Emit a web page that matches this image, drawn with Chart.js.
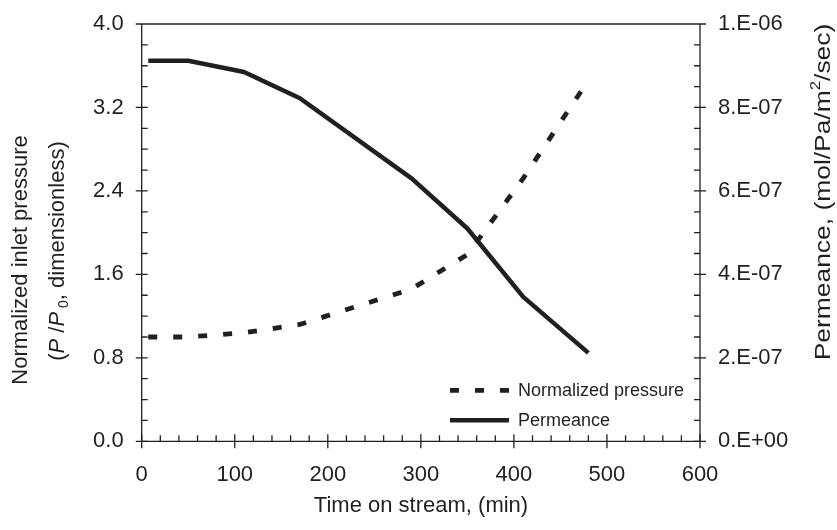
<!DOCTYPE html>
<html lang="en">
<head>
  <meta charset="UTF-8" />
  <title>Pressure and permeance vs time on stream</title>
  <script src="https://cdn.jsdelivr.net/npm/chart.js"></script>
  <style>
    html, body {
      margin: 0;
      padding: 0;
      background: #fff;
    }
    #chart-container {
      width: 837px;
      height: 530px;
    }
  </style>
</head>
<body>

  <div id="chart-container">
    <canvas id="permChart"></canvas>
  </div>

  <script>
    // data
    const timeMin = [7, 50, 110, 170, 290, 350, 410, 480];
    const pressure = [1.0, 1.0, 1.04, 1.12, 1.46, 1.79, 2.52, 3.46];
    const permeance = [9.12e-7, 9.12e-7, 8.85e-7, 8.22e-7, 6.3e-7, 5.1e-7, 3.46e-7, 2.12e-7];

    const timeTicks = [0, 100, 200, 300, 400, 500, 600];
    const pressureTicks = [0, 0.8, 1.6, 2.4, 3.2, 4.0];
    const pressureTickLabels = ['0.0', '0.8', '1.6', '2.4', '3.2', '4.0'];
    const permTicks = [0, 2e-7, 4e-7, 6e-7, 8e-7, 1e-6];
    const permTickLabels = ['0.E+00', '2.E-07', '4.E-07', '6.E-07', '8.E-07', '1.E-06'];

    const INK = '#231f20';
    const FAMILY = '"Liberation Sans", Arial, sans-serif';

    function toPoints(xs, ys) {
      return xs.map((x, i) => ({ x: x, y: ys[i] }));
    }

    // draw a run of text pieces (italic / subscript / superscript), centred on 0,0
    function drawRich(ctx, parts, size) {
      const fontFor = p => (p.italic ? 'italic ' : '') + (p.sub || p.sup ? Math.round(size * 0.65) : size) + 'px ' + FAMILY;
      let total = 0;
      parts.forEach(p => { ctx.font = fontFor(p); p.w = ctx.measureText(p.text).width; total += p.w; });
      let x = -total / 2;
      ctx.textBaseline = 'middle';
      ctx.textAlign = 'left';
      parts.forEach(p => {
        ctx.font = fontFor(p);
        let dy = 0;
        if (p.sub) dy = size * 0.28;
        if (p.sup) dy = -size * 0.35;
        ctx.fillText(p.text, x, dy);
        x += p.w;
      });
    }

    // keep the vertical axes from pushing the plot area down
    function fixVertical(width) {
      return s => {
        s.width = width;
        s.paddingTop = 12;
        s.paddingBottom = 12;
      };
    }

    const frame = {
      id: 'frame',
      afterDatasetsDraw(chart) {
        const ctx = chart.ctx;
        const a = chart.chartArea;
        const sx = chart.scales.x, sy = chart.scales.y, sy2 = chart.scales.y2;
        ctx.save();
        ctx.strokeStyle = INK;
        ctx.fillStyle = INK;
        ctx.lineWidth = 1.3;

        // box lines
        ctx.beginPath();
        ctx.moveTo(a.left, a.top); ctx.lineTo(a.right, a.top);
        ctx.moveTo(a.left, a.top); ctx.lineTo(a.left, a.bottom);
        ctx.moveTo(a.right, a.top); ctx.lineTo(a.right, a.bottom);
        ctx.moveTo(a.left, a.bottom); ctx.lineTo(a.right, a.bottom);
        ctx.stroke();

        ctx.beginPath();
        // bottom: minor every 20, major every 100
        for (let k = 0; k <= 30; k++) {
          const px = sx.getPixelForValue(k * 20);
          if (k % 5 === 0) { ctx.moveTo(px, a.bottom - 7); ctx.lineTo(px, a.bottom + 7); }
          else { ctx.moveTo(px, a.bottom - 6); ctx.lineTo(px, a.bottom); }
        }
        // left: minor every 0.2, major every 0.8
        for (let k = 0; k <= 20; k++) {
          const py = sy.getPixelForValue(k * 0.2);
          if (k % 4 === 0) { ctx.moveTo(a.left - 6, py); ctx.lineTo(a.left + (k === 20 ? 0 : 6), py); }
          else { ctx.moveTo(a.left, py); ctx.lineTo(a.left + 6, py); }
        }
        // right: minor every 5e-8, major every 2e-7
        for (let k = 0; k <= 20; k++) {
          const py = sy2.getPixelForValue(k * 5e-8);
          if (k % 4 === 0) { ctx.moveTo(a.right - (k === 20 ? 0 : 6), py); ctx.lineTo(a.right + 6, py); }
          else { ctx.moveTo(a.right - 6, py); ctx.lineTo(a.right, py); }
        }
        ctx.stroke();

        // legend in the lower right of the plot
        const lx = a.right - 250;
        chart.data.datasets.forEach((ds, i) => {
          const ly = a.bottom - 51 + i * 30;
          ctx.save();
          ctx.lineWidth = ds.borderWidth;
          ctx.setLineDash(ds.borderDash || []);
          ctx.lineCap = 'butt';
          ctx.beginPath();
          ctx.moveTo(lx, ly); ctx.lineTo(lx + 59, ly);
          ctx.stroke();
          ctx.restore();
          ctx.font = '18px ' + FAMILY;
          ctx.textAlign = 'left';
          ctx.textBaseline = 'middle';
          ctx.fillText(ds.label, lx + 68, ly + 1);
        });

        // axis titles
        ctx.save();
        ctx.translate(21, 260);
        ctx.rotate(-Math.PI / 2);
        drawRich(ctx, [{ text: 'Normalized inlet pressure' }], 22);
        ctx.restore();

        ctx.save();
        ctx.translate(58, 251);
        ctx.rotate(-Math.PI / 2);
        drawRich(ctx, [
          { text: '(' }, { text: 'P', italic: true }, { text: ' /' },
          { text: 'P', italic: true }, { text: ' 0', sub: true }, { text: ', dimensionless)' }
        ], 22);
        ctx.restore();

        ctx.save();
        ctx.translate(824, 192);
        ctx.rotate(-Math.PI / 2);
        ctx.scale(1.2, 1);
        drawRich(ctx, [
          { text: 'Permeance, (mol/Pa/m' }, { text: '2', sup: true }, { text: '/sec)' }
        ], 22);
        ctx.restore();

        ctx.save();
        ctx.translate(421, 506);
        drawRich(ctx, [{ text: 'Time on stream, (min)' }], 22);
        ctx.restore();

        ctx.restore();
      }
    };

    const tickFont = { family: FAMILY, size: 22 };

    const ctx = document.getElementById('permChart').getContext('2d');
    const chart = new Chart(ctx, {
      type: 'line',
      data: {
        datasets: [
          {
            label: 'Normalized pressure',
            data: toPoints(timeMin, pressure),
            yAxisID: 'y',
            borderColor: INK,
            borderWidth: 4.8,
            borderDash: [9, 16],
            pointRadius: 0,
            tension: 0,
            fill: false
          },
          {
            label: 'Permeance',
            data: toPoints(timeMin, permeance),
            yAxisID: 'y2',
            borderColor: INK,
            borderWidth: 4.5,
            borderJoinStyle: 'round',
            pointRadius: 0,
            tension: 0,
            fill: false
          }
        ]
      },
      options: {
        responsive: true,
        maintainAspectRatio: false,
        animation: false,
        devicePixelRatio: 1,
        layout: { padding: { top: 24, left: 0, right: 0, bottom: 0 } },
        plugins: {
          legend: { display: false },
          tooltip: { enabled: false }
        },
        scales: {
          x: {
            type: 'linear',
            min: 0,
            max: 600,
            afterBuildTicks: s => { s.ticks = timeTicks.map(v => ({ value: v })); },
            afterFit: s => { s.height = 88.7; },
            ticks: { font: tickFont, color: INK, padding: 20, maxRotation: 0 },
            grid: { display: false, drawTicks: false },
            border: { display: false }
          },
          y: {
            position: 'left',
            min: 0,
            max: 4,
            afterBuildTicks: s => { s.ticks = pressureTicks.map(v => ({ value: v })); },
            afterFit: fixVertical(141.7),
            ticks: { font: tickFont, color: INK, padding: 18, callback: (v, i) => pressureTickLabels[i] },
            grid: { display: false, drawTicks: false },
            border: { display: false }
          },
          y2: {
            position: 'right',
            min: 0,
            max: 1e-6,
            afterBuildTicks: s => { s.ticks = permTicks.map(v => ({ value: v })); },
            afterFit: fixVertical(137),
            ticks: { font: tickFont, color: INK, padding: 18, callback: (v, i) => permTickLabels[i] },
            grid: { display: false, drawTicks: false },
            border: { display: false }
          }
        }
      },
      plugins: [frame]
    });
  </script>

</body>
</html>
